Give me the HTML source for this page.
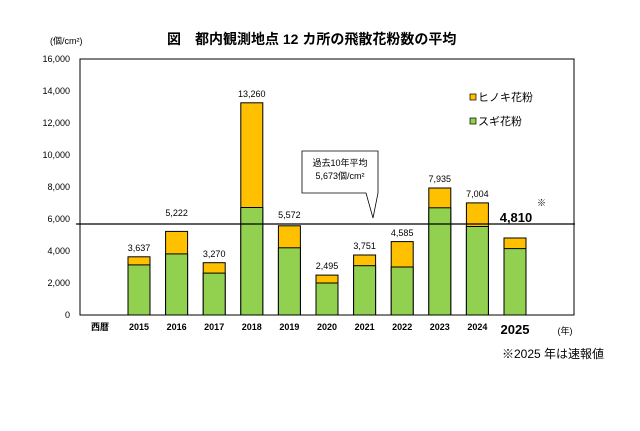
<!DOCTYPE html>
<html><head><meta charset="utf-8"><style>
body{margin:0;background:#fff;width:640px;height:426px;overflow:hidden}
text{font-family:"Liberation Sans","Noto Sans CJK JP",sans-serif}
</style></head><body>
<svg width="640" height="426" xmlns="http://www.w3.org/2000/svg">
<text x="167" y="44" font-size="14" font-weight="bold">図　都内観測地点 12 カ所の飛散花粉数の平均</text>
<text x="50" y="44" font-size="9">(個/cm²)</text>
<rect x="80" y="59" width="494" height="256" fill="none" stroke="#000" stroke-width="1"/>
<g font-size="9" text-anchor="end">
<text x="70" y="318">0</text><text x="70" y="286">2,000</text><text x="70" y="254">4,000</text>
<text x="70" y="222">6,000</text><text x="70" y="190">8,000</text><text x="70" y="158">10,000</text>
<text x="70" y="126">12,000</text><text x="70" y="94">14,000</text><text x="70" y="62">16,000</text>
</g>
<g stroke="#000" stroke-width="1">
<rect x="128" y="256.8" width="22" height="58.2" fill="#ffc000"/><rect x="128" y="264.9" width="22" height="50.1" fill="#92d050"/>
<rect x="165.6" y="231.4" width="22" height="83.6" fill="#ffc000"/><rect x="165.6" y="253.9" width="22" height="61.1" fill="#92d050"/>
<rect x="203.2" y="262.7" width="22" height="52.3" fill="#ffc000"/><rect x="203.2" y="273.1" width="22" height="41.9" fill="#92d050"/>
<rect x="240.8" y="102.8" width="22" height="212.2" fill="#ffc000"/><rect x="240.8" y="207.5" width="22" height="107.5" fill="#92d050"/>
<rect x="278.4" y="225.8" width="22" height="89.2" fill="#ffc000"/><rect x="278.4" y="247.8" width="22" height="67.2" fill="#92d050"/>
<rect x="316" y="275.1" width="22" height="39.9" fill="#ffc000"/><rect x="316" y="283" width="22" height="32" fill="#92d050"/>
<rect x="353.6" y="255" width="22" height="60" fill="#ffc000"/><rect x="353.6" y="265.7" width="22" height="49.3" fill="#92d050"/>
<rect x="391.2" y="241.6" width="22" height="73.4" fill="#ffc000"/><rect x="391.2" y="267" width="22" height="48" fill="#92d050"/>
<rect x="428.8" y="188" width="22" height="127" fill="#ffc000"/><rect x="428.8" y="207.8" width="22" height="107.2" fill="#92d050"/>
<rect x="466.4" y="202.9" width="22" height="112.1" fill="#ffc000"/><rect x="466.4" y="226.5" width="22" height="88.5" fill="#92d050"/>
<rect x="504" y="238" width="22" height="77" fill="#ffc000"/><rect x="504" y="248.6" width="22" height="66.4" fill="#92d050"/>
</g>
<line x1="76" y1="224" x2="575" y2="224" stroke="#000" stroke-width="1.3"/>
<g font-size="9" text-anchor="middle">
<text x="139" y="251">3,637</text><text x="176.6" y="216">5,222</text><text x="214.2" y="257">3,270</text>
<text x="251.8" y="97">13,260</text><text x="289.4" y="218">5,572</text><text x="327" y="269">2,495</text>
<text x="364.6" y="249">3,751</text><text x="402.2" y="236">4,585</text><text x="439.8" y="182">7,935</text>
<text x="477.4" y="197">7,004</text>
</g>
<text x="516" y="222" font-size="13" font-weight="bold" text-anchor="middle">4,810</text>
<text x="537" y="206" font-size="9">※</text>
<path d="M302,151 H378 V193 H378 L373,218 L366,193 H302 Z" fill="#fff" stroke="#000" stroke-width="0.8"/>
<text x="340" y="166" font-size="9" text-anchor="middle">過去10年平均</text>
<text x="340" y="179" font-size="9" text-anchor="middle">5,673個/cm²</text>
<rect x="470" y="94" width="6" height="6" fill="#ffc000" stroke="#000" stroke-width="0.7"/>
<text x="478" y="101" font-size="11">ヒノキ花粉</text>
<rect x="470" y="118" width="6" height="6" fill="#92d050" stroke="#000" stroke-width="0.7"/>
<text x="478" y="125" font-size="11">スギ花粉</text>
<g font-size="9" font-weight="bold" text-anchor="middle">
<text x="100" y="330">西暦</text>
<text x="139" y="330">2015</text><text x="176.6" y="330">2016</text><text x="214.2" y="330">2017</text>
<text x="251.8" y="330">2018</text><text x="289.4" y="330">2019</text><text x="327" y="330">2020</text>
<text x="364.6" y="330">2021</text><text x="402.2" y="330">2022</text><text x="439.8" y="330">2023</text>
<text x="477.4" y="330">2024</text>
</g>
<text x="515" y="334" font-size="13" font-weight="bold" text-anchor="middle">2025</text>
<text x="565" y="334" font-size="9" text-anchor="middle">(年)</text>
<text x="502" y="358" font-size="12">※2025 年は速報値</text>
</svg>
</body></html>
